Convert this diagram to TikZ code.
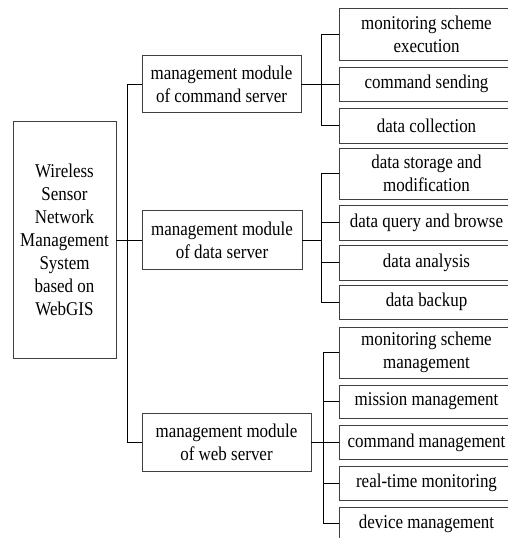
\documentclass[tikz,border=0pt]{standalone}
\usepackage{fontspec}
\setmainfont{Liberation Serif}
\newfontfamily\narrowserif{Liberation Serif}[FakeStretch=0.87]
\begin{document}
\begin{tikzpicture}[x=1pt,y=-1pt,
  box/.style={draw=black!75,line width=0.9pt,rectangle,inner sep=0pt,align=center,
    font=\narrowserif\fontsize{19.5}{23}\selectfont},
  leaf/.style={box,minimum width=175pt},
  conn/.style={draw=black,line width=1pt}]
\useasboundingbox (0,0) rectangle (508,538);
\clip (0,0) rectangle (508,538);
% root and modules
\node[box,minimum width=103pt,minimum height=237pt] (root) at (64.5,240) {Wireless\\Sensor\\Network\\Management\\System\\based on\\WebGIS};
\node[box,minimum width=159pt,minimum height=57pt] (cmd) at (221.5,84) {management module\\of command server};
\node[box,minimum width=160pt,minimum height=59pt] (data) at (222,240) {management module\\of data server};
\node[box,minimum width=169pt,minimum height=58pt] (web) at (226.5,442.5) {management module\\of web server};
% leaves
\node[leaf,minimum height=52pt] (l1) at (426.5,34) {monitoring scheme\\execution};
\node[leaf,minimum height=34pt] (l2) at (426.5,84) {command sending};
\node[leaf,minimum height=35pt] (l3) at (426.5,125.5) {data collection};
\node[leaf,minimum height=51pt] (l4) at (426.5,173.5) {data storage and\\modification};
\node[leaf,minimum height=35pt] (l5) at (426.5,222.5) {data query and browse};
\node[leaf,minimum height=35pt] (l6) at (426.5,262.5) {data analysis};
\node[leaf,minimum height=34pt] (l7) at (426.5,302) {data backup};
\node[leaf,minimum height=51pt] (l8) at (426.5,352.5) {monitoring scheme\\management};
\node[leaf,minimum height=33pt] (l9) at (426.5,401.5) {mission management};
\node[leaf,minimum height=34pt] (l10) at (426.5,442.5) {command management};
\node[leaf,minimum height=34pt] (l11) at (426.5,483) {real-time monitoring};
\node[leaf,minimum height=33pt] (l12) at (426.5,523.5) {device management};
% junction columns
\coordinate (t1) at (127,0);
\coordinate (t2) at (321,0);
\coordinate (t3) at (323,0);
% trunk
\draw[conn] (root.east) -- (data.west);
\draw[conn] (cmd.west) -| (t1 |- web.west) -- (web.west);
% command branch
\draw[conn] (cmd.east) -- (l2.west);
\draw[conn] (l1.west) -| (t2 |- l3.west) -- (l3.west);
% data branch
\draw[conn] (data.east) -- (data.east -| t2);
\draw[conn] (l4.west) -| (t2 |- l7.west) -- (l7.west);
\draw[conn] (l5.west) -- (l5.west -| t2);
\draw[conn] (l6.west) -- (l6.west -| t2);
% web branch
\draw[conn] (web.east) -- (l10.west);
\draw[conn] (l8.west) -| (t3 |- l12.west) -- (l12.west);
\draw[conn] (l9.west) -- (l9.west -| t3);
\draw[conn] (l11.west) -- (l11.west -| t3);
\end{tikzpicture}
\end{document}
